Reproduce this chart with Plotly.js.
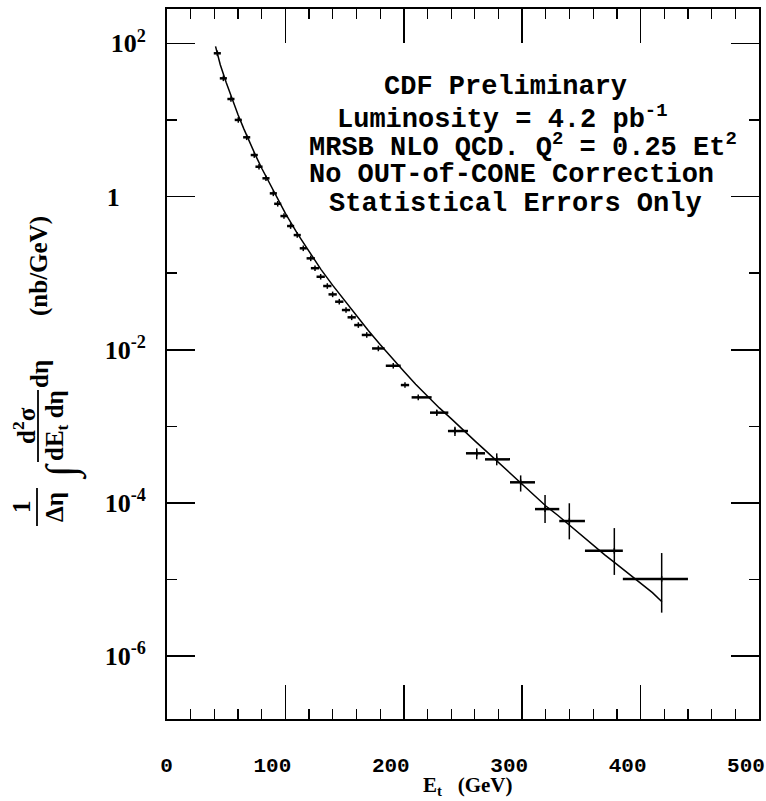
<!DOCTYPE html>
<html>
<head>
<meta charset="utf-8">
<script src="https://cdn.plot.ly/plotly-3.0.1.min.js"></script>
<style>
  html, body { margin: 0; padding: 0; background: #ffffff; }
  #chart { width: 766px; height: 801px; }
</style>
</head>
<body>
<div id="chart"></div>
<script>
// Inclusive jet cross section versus transverse energy, CDF preliminary, 4.2 pb^-1

// Measured points: bin Et (GeV) and cross section (nb/GeV)
const jetEt = [42.5, 47.6, 54.0, 60.2, 67.3, 73.7, 77.7, 83.6, 89.8, 93.5,
               98.8, 104.4, 110.0, 115.1, 121.4, 125.0, 129.8, 135.4, 139.9, 145.5,
               151.2, 156.0, 161.6, 168.7, 178.5, 191.1, 201.0, 212.2, 227.8, 243.2,
               261.6, 278.5, 298.7, 319.3, 339.8, 377.8, 417.8];
const jetXsec = [74.1, 34.9, 18.75, 10.0, 5.93, 3.48, 2.45, 1.73, 1.10, 0.804,
                 0.556, 0.412, 0.314, 0.211, 0.156, 0.116, 0.0897, 0.0679, 0.0528, 0.0424,
                 0.0330, 0.0265, 0.0210, 0.0156, 0.0104, 0.00618, 0.00346, 0.00239, 0.00151, 0.000869,
                 0.000445, 0.000371, 0.000186, 0.0000832, 0.0000581, 0.0000238, 0.0000102];

// Bin extent on either side of each point (GeV)
const etBinLow  = [3, 3, 3, 3, 3, 3, 3, 3, 3, 3,
                   3, 3, 3, 3, 3.5, 3.5, 3.5, 3.5, 3.5, 3.5,
                   3.5, 3.5, 3.5, 4.2, 5.3, 6.3, 3.5, 5.6, 5.7, 5.9,
                   9.1, 9.9, 9.0, 8.5, 8.5, 24.8, 32.8];
const etBinHigh = [3, 3, 3, 3, 3, 3, 3, 3, 3, 3,
                   3, 3, 3, 3, 3.5, 3.5, 3.5, 3.5, 3.5, 3.5,
                   3.5, 3.5, 3.5, 4.2, 5.3, 6.3, 3.5, 11.3, 9.8, 11.0,
                   7.0, 11.2, 12.1, 12.0, 13.2, 7.2, 22.2];

// Statistical errors (nb/GeV)
const statErrUp   = [0, 0, 0, 0, 0, 0, 0, 0, 0, 0,
                     0, 0, 0, 0, 0, 0, 0, 0, 0, 0,
                     0, 0, 0, 0, 0, 0, 0, 0, 0.00014, 0.00012,
                     0.000071, 0.000073, 0.000043, 0.000044, 0.000041, 0.0000232, 0.000012];
const statErrDown = [0, 0, 0, 0, 0, 0, 0, 0, 0, 0,
                     0, 0, 0, 0, 0, 0, 0, 0, 0, 0,
                     0, 0, 0, 0, 0, 0, 0, 0, 0.00014, 0.00012,
                     0.000074, 0.000061, 0.000045, 0.0000285, 0.0000246, 0.0000123, 0.0000065];

// MRSB NLO QCD prediction
const qcdEt = [41, 45, 50, 55, 60, 65, 70, 75, 80, 85,
               90, 95, 100, 110, 120, 130, 140, 150, 160, 170,
               180, 190, 200, 210, 220, 230, 240, 250, 260, 270,
               280, 290, 300, 310, 320, 330, 340, 350, 360, 370,
               380, 390, 400, 410, 418];
const qcdXsec = [91.2, 52.5, 30.9, 18.6, 11.7, 7.59, 5.01, 3.39, 2.34, 1.66,
                 1.20, 0.832, 0.603, 0.331, 0.191, 0.112, 0.0692, 0.0437, 0.0275, 0.0178,
                 0.0117, 0.00776, 0.00525, 0.00355, 0.00245, 0.00174, 0.00126, 0.000891, 0.000646, 0.000468,
                 0.000339, 0.000245, 0.000178, 0.000126, 0.0000912, 0.0000692, 0.0000513, 0.0000372, 0.0000275, 0.0000209,
                 0.0000158, 0.0000120, 0.00000912, 0.00000676, 0.00000513];

// Axis ticks
const xTickVals = [0, 100, 200, 300, 400, 500];
const xTickText = ['\u00a0\u00a00', '100', '200', '300', '400', '500'];
const yTickVals = [1e2, 1, 1e-2, 1e-4, 1e-6];
const yTickText = ['10<sup>2</sup>', '1\u00a0\u00a0\u00a0\u00a0', '10<sup>-2</sup>', '10<sup>-4</sup>', '10<sup>-6</sup>'];
const yMinorVals = [10, 0.1, 1e-3, 1e-5];

// Text block inside the frame
const infoLines = ['CDF Preliminary',
                   'Luminosity = 4.2 pb<sup>-1</sup>',
                   'MRSB NLO QCD. Q<sup>2</sup> = 0.25 Et<sup>2</sup>',
                   'No OUT-of-CONE Correction',
                   'Statistical Errors Only'];

// Page geometry (pixels)
const W = 766, H = 801;
const M = { l: 167, r: 7, t: 9, b: 82 };
const plotW = W - M.l - M.r, plotH = H - M.t - M.b;
const px = X => (X - M.l) / plotW;
const py = Y => 1 - (Y - M.t) / plotH;

const infoPos = [[382, 87], [335, 117], [307, 146], [307, 175], [327, 204]];
const monoFont = { family: 'Liberation Mono, Courier New, monospace', size: 27, color: '#000', weight: 'bold' };
const serifFont = { family: 'Liberation Serif, Times New Roman, serif', size: 25, color: '#000', weight: 'bold' };

const annotations = infoLines.map((t, i) => ({
  xref: 'paper', yref: 'paper', x: px(infoPos[i][0]), y: py(infoPos[i][1]),
  xanchor: 'left', yanchor: 'middle', showarrow: false, text: t, font: monoFont
}));

// Rotated y-axis label built from pieces
function rot(text, X, Y, font) {
  return { xref: 'paper', yref: 'paper', x: px(X), y: py(Y), xanchor: 'center', yanchor: 'middle',
           showarrow: false, textangle: -90, text: text, font: font || serifFont };
}
annotations.push(rot('1', 22, 507));
annotations.push(rot('\u0394\u03b7', 55, 507));
annotations.push(rot('\u222b', 62, 472, { family: 'Liberation Serif, serif', size: 42, color: '#000' }));
annotations.push(rot('d<sup>2</sup>\u03c3', 24, 426));
annotations.push(rot('dE<sub>t</sub> d\u03b7', 56, 426));
annotations.push(rot('d\u03b7', 39, 374));
annotations.push(rot('(nb/GeV)', 39, 266));

// x-axis title
annotations.push({ xref: 'paper', yref: 'paper', x: px(467), y: py(786), xanchor: 'center', yanchor: 'middle',
                   showarrow: false, text: 'E<sub>t</sub>\u00a0\u00a0\u00a0(GeV)',
                   font: { family: 'Liberation Serif, Times New Roman, serif', size: 21, color: '#000', weight: 'bold' } });

const shapes = [
  { type: 'line', xref: 'paper', yref: 'paper', x0: px(37), x1: px(37), y0: py(488), y1: py(526), line: { color: '#000', width: 1.8 } },
  { type: 'line', xref: 'paper', yref: 'paper', x0: px(38), x1: px(38), y0: py(390), y1: py(462), line: { color: '#000', width: 1.8 } }
];

const data = [
  {
    x: qcdEt, y: qcdXsec, type: 'scatter', mode: 'lines',
    line: { color: '#000', width: 1.5 }, hoverinfo: 'skip'
  },
  {
    x: jetEt, y: jetXsec, type: 'scatter', mode: 'markers',
    marker: { symbol: 'line-ns-open', size: 4, color: '#000', line: { color: '#000', width: 1.5 } },
    error_x: { type: 'data', symmetric: false, array: etBinHigh, arrayminus: etBinLow, width: 0, thickness: 2.5, color: '#000' },
    error_y: { type: 'data', symmetric: false, array: statErrUp, arrayminus: statErrDown, width: 0, thickness: 1.5, color: '#000' }
  }
];

const layout = {
  width: W, height: H,
  margin: M,
  paper_bgcolor: '#fff', plot_bgcolor: '#fff',
  showlegend: false,
  xaxis: {
    range: [0, 500], tickmode: 'array', tickvals: xTickVals, ticktext: xTickText,
    ticks: 'inside', ticklen: 34, tickwidth: 1.5, tickcolor: '#000',
    showline: true, linewidth: 2, linecolor: '#000', mirror: 'ticks',
    showgrid: false, zeroline: false,
    ticklabelstandoff: 26, ticklabelshift: -13,
    tickfont: { family: 'Liberation Mono, Courier New, monospace', size: 21, color: '#000', weight: 'bold' },
    minor: { dtick: 20, ticks: 'inside', ticklen: 10, tickwidth: 1.2, tickcolor: '#000', showgrid: false }
  },
  yaxis: {
    type: 'log', range: [-6.82, 2.448], tickmode: 'array', tickvals: yTickVals, ticktext: yTickText,
    ticks: 'inside', ticklen: 28, tickwidth: 1.5, tickcolor: '#000',
    showline: true, linewidth: 2, linecolor: '#000', mirror: 'ticks',
    showgrid: false, zeroline: false,
    ticklabelstandoff: 14,
    tickfont: { family: 'Liberation Serif, Times New Roman, serif', size: 26, color: '#000', weight: 'bold' },
    minor: { tickmode: 'array', tickvals: yMinorVals, ticks: 'inside', ticklen: 10, tickwidth: 1.5, tickcolor: '#000', showgrid: false }
  },
  annotations: annotations,
  shapes: shapes
};

Plotly.newPlot('chart', data, layout, { staticPlot: true, displayModeBar: false });
</script>
</body>
</html>
